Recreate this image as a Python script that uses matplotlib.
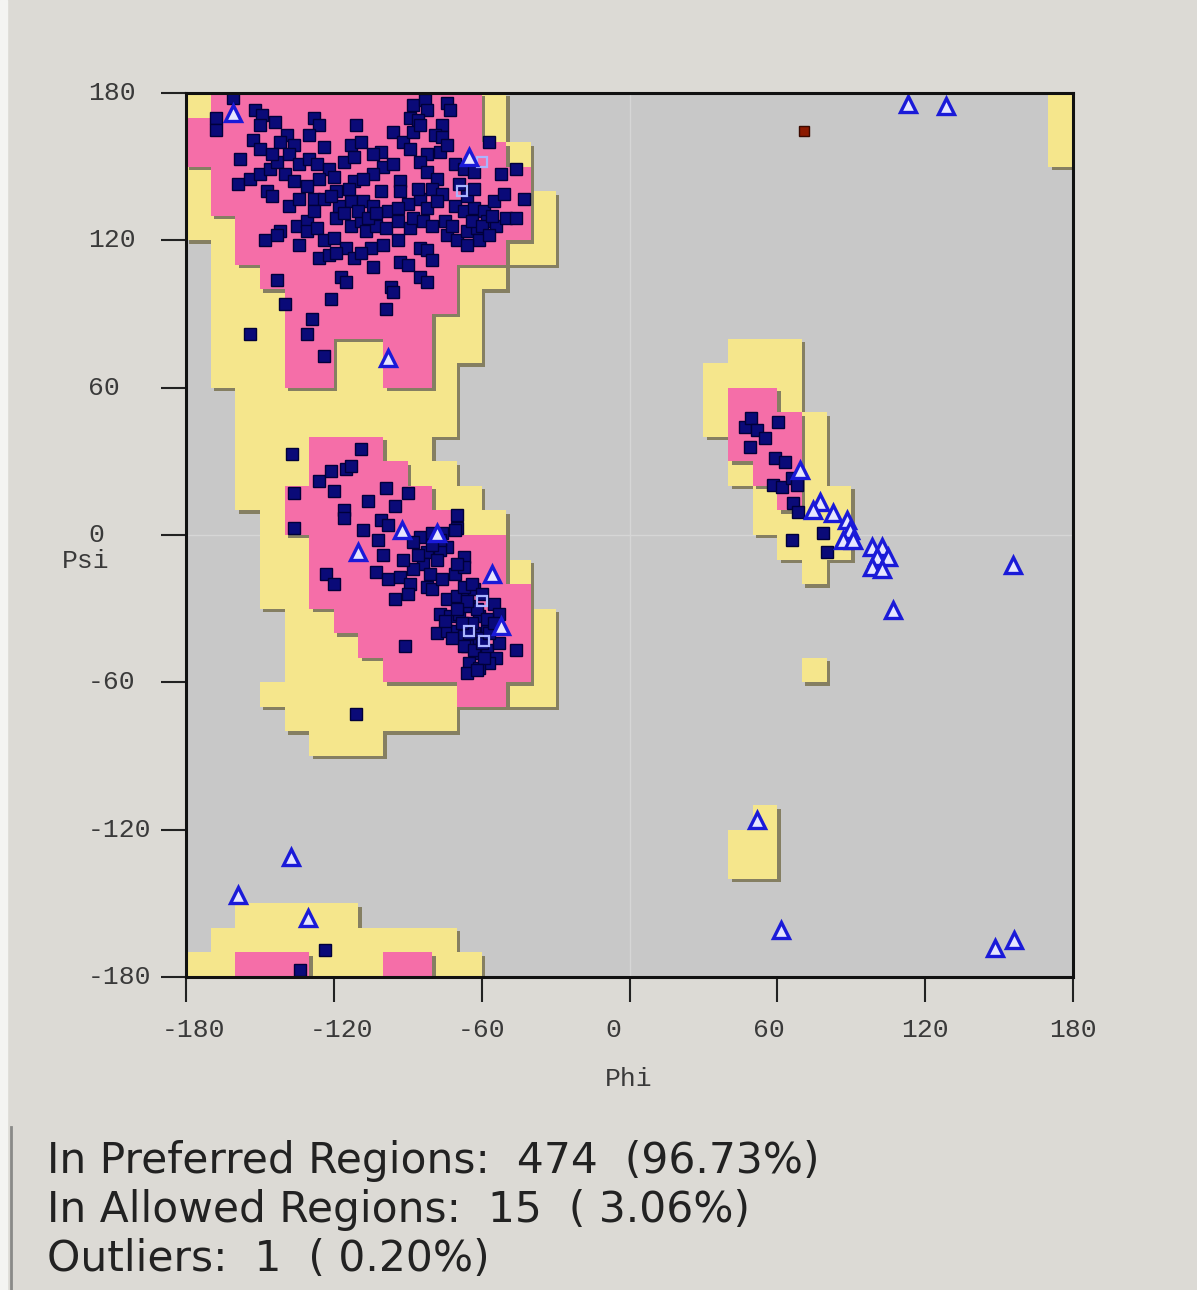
import numpy as np
import matplotlib
matplotlib.use('Agg')
import matplotlib.pyplot as plt
from matplotlib.colors import ListedColormap
from matplotlib import transforms
from matplotlib.patches import Rectangle
from matplotlib.lines import Line2D

plt.rcParams['axes.unicode_minus'] = False

# region map blocks: (phi_lo, phi_hi, psi_lo, psi_hi), 10 degree grid
allowed_blocks = [
    (-180, -50, 160, 180), (-180, -40, 140, 160), (-180, -30, 120, 140),
    (-170, -30, 110, 120), (-170, -50, 100, 110), (-170, -60, 70, 100),
    (-170, -70, 60, 70), (-160, -70, 40, 60), (-160, -80, 30, 40),
    (-160, -70, 20, 30), (-160, -60, 10, 20), (-150, -50, -10, 10),
    (-150, -40, -30, -10), (-140, -30, -60, -30), (-150, -30, -70, -60),
    (-140, -70, -80, -70), (-130, -100, -90, -80),
    (-160, -110, -160, -150), (-170, -70, -170, -160), (-180, -60, -180, -170),
    (30, 40, 40, 70), (40, 50, 20, 80), (50, 60, 0, 80), (60, 70, -10, 80),
    (70, 80, -20, 50), (80, 90, -10, 20), (70, 80, -60, -50),
    (50, 60, -140, -110), (40, 50, -140, -120), (170, 180, 150, 180),
]

preferred_blocks = [
    (-180, -170, 150, 170), (-170, -160, 130, 180), (-160, -150, 110, 180),
    (-150, -140, 100, 180), (-140, -120, 60, 180), (-120, -100, 80, 180),
    (-100, -80, 60, 180), (-80, -70, 90, 180), (-70, -60, 110, 180),
    (-60, -50, 110, 160), (-50, -40, 120, 150),
    (-130, -100, 30, 40), (-130, -90, 20, 30), (-140, -80, 10, 20),
    (-140, -70, 0, 10), (-130, -50, -20, 0), (-130, -40, -30, -20),
    (-120, -40, -40, -30), (-110, -40, -50, -40), (-100, -40, -60, -50),
    (-70, -50, -70, -60),
    (-160, -130, -180, -170), (-100, -80, -180, -170),
    (40, 50, 30, 60), (50, 60, 20, 60), (60, 70, 10, 50),
]

# residues (phi, psi)
general = [
    (-161, 178), (-152, 173), (-149, 171), (-168, 170), (-128, 170), (-126, 167), (-111, 167),
    (-88, 175), (-83, 177), (-82, 173), (-74, 176), (-73, 173), (-89, 170), (-86, 169),
    (-76, 167), (-57, 160), (-168, 165), (-150, 167), (-144, 168), (-153, 161), (-139, 163),
    (-142, 160), (-136, 159), (-130, 163), (-124, 158), (-113, 159), (-109, 160), (-101, 156),
    (-96, 164), (-92, 160), (-88, 164), (-85, 167), (-79, 163), (-76, 162), (-89, 157),
    (-82, 155), (-77, 156), (-74, 159),
    (-159, 143), (-154, 145), (-150, 147), (-146, 149), (-143, 152), (-138, 155), (-134, 151),
    (-130, 153), (-127, 151), (-122, 149), (-116, 152), (-112, 154), (-104, 155), (-100, 150),
    (-96, 151), (-112, 144), (-104, 147), (-93, 144), (-85, 152), (-82, 148), (-78, 145),
    (-71, 151), (-67, 149), (-63, 148), (-46, 149), (-52, 147),
    (-147, 140), (-145, 138), (-138, 134), (-134, 137), (-128, 137), (-124, 137), (-119, 140),
    (-113, 136), (-108, 136), (-104, 134), (-101, 140), (-98, 132), (-93, 140), (-85, 137),
    (-82, 133), (-80, 141), (-76, 139), (-71, 134), (-67, 132), (-63, 133), (-59, 132),
    (-55, 136), (-51, 139), (-43, 137),
    (-142, 124), (-135, 126), (-131, 128), (-148, 120), (-143, 122), (-134, 118), (-131, 124),
    (-127, 125), (-124, 120), (-120, 121), (-119, 129), (-113, 126), (-109, 128), (-107, 124),
    (-103, 126), (-99, 125), (-94, 128), (-89, 125), (-88, 129), (-84, 128), (-80, 126),
    (-74, 122), (-70, 120), (-66, 124), (-62, 125), (-58, 128), (-54, 126), (-50, 129),
    (-46, 129), (-61, 120), (-66, 118),
    (-115, 117), (-126, 113), (-122, 114), (-112, 113), (-105, 117), (-100, 118), (-94, 120),
    (-119, 115), (-109, 115), (-104, 109), (-93, 111), (-90, 110), (-85, 117), (-82, 116),
    (-80, 112), (-143, 104), (-117, 105), (-115, 103), (-85, 105), (-82, 103), (-97, 101),
    (-96, 99), (-99, 92), (-121, 96), (-140, 94), (-129, 88), (-131, 82), (-154, 82), (-124, 73),
    (-118, 134), (-116, 131), (-121, 138), (-114, 141), (-110, 132), (-106, 129), (-103, 131),
    (-75, 128), (-72, 126), (-64, 128), (-60, 126), (-57, 122), (-56, 130), (-66, 138),
    (-63, 141), (-69, 143), (-126, 145), (-120, 146), (-131, 142), (-108, 145), (-90, 135),
    (-86, 141), (-94, 133), (-78, 136), (-128, 132), (-140, 147), (-136, 144), (-150, 157),
    (-145, 155), (-158, 153),
    (-137, 33), (-109, 35), (-136, 17), (-136, 3), (-126, 22), (-121, 26), (-115, 27),
    (-113, 28), (-120, 18), (-116, 10), (-116, 7), (-106, 14), (-99, 19), (-95, 12),
    (-90, 17), (-108, 2), (-101, 6), (-98, 4), (-102, -2), (-100, -8), (-103, -15),
    (-98, -18), (-93, -17), (-89, -20), (-95, -26), (-90, -24), (-123, -16), (-120, -20),
    (-85, -1), (-88, -3), (-82, -7), (-80, 1), (-76, 1), (-74, -5), (-70, 8), (-70, 3),
    (-77, -6), (-84, -12), (-81, -16), (-82, -21), (-80, -22), (-76, -18), (-71, -16),
    (-67, -9), (-67, -13), (-70, -12), (-74, -26), (-70, -25), (-66, -24), (-63, -22),
    (-77, -32), (-73, -33), (-69, -32), (-65, -29), (-61, -33), (-78, -40), (-74, -39),
    (-70, -39), (-67, -41), (-63, -40), (-58, -39), (-66, -45), (-62, -48), (-58, -47),
    (-54, -50), (-57, -52), (-65, -52), (-66, -56), (-61, -54), (-46, -47), (-53, -44),
    (-55, -28), (-53, -32), (-67, -21), (-91, -45), (-111, -73), (-71, 2), (-77, -2),
    (-64, -36), (-61, -42), (-67, -45), (-62, -30), (-58, -34), (-66, -27), (-70, -30),
    (-63, -47), (-60, -44), (-57, -40), (-65, -40), (-68, -36), (-55, -36), (-59, -50),
    (-62, -55), (-72, -42), (-75, -35), (-64, -20), (-60, -24), (-86, -8), (-80, -4),
    (-88, -14), (-92, -10), (-78, -10),
    (47, 44), (49.5, 47.5), (51.6, 42.8), (55, 39.4), (48.9, 36), (60.3, 46.2), (59, 31.2),
    (63.1, 29.9), (58.3, 20.4), (61.7, 19.7), (65.8, 23.1), (67.8, 20.4), (66.4, 12.9),
    (68.5, 9.5), (65.8, -2), (78.6, 0.7), (80, -6.8),
    (-123.6, -169), (-133.7, -177),
]

glycine = [
    (-161, 172), (-98, 72), (113, 175.5), (128.4, 174.7), (-110, -7), (-92.4, 2), (-78, 1),
    (-56, -16), (-52, -37), (69, 26.5), (77.3, 13.6), (74.6, 10.2), (82.7, 8.9), (88.1, 6.1),
    (89.5, 2.1), (86.8, -2), (90.8, -2), (98.3, -4.7), (102.3, -4.7), (100.3, -8.8),
    (105, -8.8), (98.3, -12.9), (102.3, -14), (107, -30.5), (155.6, -12.2), (51.7, -116),
    (-158.9, -146.5), (-137.4, -131), (-130.5, -155.9), (61.5, -160.8), (148.3, -168.1),
    (156, -164.9), (-65, 154),
]

proline = [(-68, 140), (-60, 152), (-60, -27), (-59, -43), (-65, -39)]

outliers = [(70.8, 164.5)]

ticks = [-180, -120, -60, 0, 60, 120, 180]
summary_lines = [
    'In Preferred Regions:  474  (96.73%)',
    'In Allowed Regions:  15  ( 3.06%)',
    'Outliers:  1  ( 0.20%)',
]


def grid_from(blocks):
    g = np.zeros((36, 36), bool)
    centers = np.arange(-175, 180, 10)
    for p0, p1, s0, s1 in blocks:
        cols = (centers > p0) & (centers < p1)
        rows = (centers > s0) & (centers < s1)
        g[np.ix_(rows, cols)] = True
    return g


fig = plt.figure(figsize=(11.97, 12.9), dpi=100, facecolor='#dcdad5')
ax = fig.add_axes([0.1554, 0.2426, 0.741, 0.6853])
ax.set_facecolor('#c8c8c8')

# zero lines
ax.axhline(0, color='#d6d6d6', lw=1, zorder=0.5)
ax.axvline(0, color='#d6d6d6', lw=1, zorder=0.5)

# regions with drop shadow
edges = np.arange(-180, 181, 10)
off = 1.4
layers = [(grid_from(allowed_blocks), '#f5e68c', 2), (grid_from(preferred_blocks), '#f56ea8', 4)]
for g, col, z in layers:
    m = np.ma.masked_where(~g, np.ones(g.shape))
    ax.pcolormesh(edges + off, edges - off, m, cmap=ListedColormap(['#857f62']),
                  zorder=z - 1, antialiased=False)
    ax.pcolormesh(edges, edges, m, cmap=ListedColormap([col]), zorder=z, antialiased=False)

# residues
gx, gy = zip(*general)
ax.plot(gx, gy, 's', ms=8.5, mfc='#0a0a78', mec='#00003a', mew=1, zorder=6)
px, py = zip(*proline)
ax.plot(px, py, 's', ms=6.5, mfc='none', mec='#aab4ff', mew=1.6, zorder=7)
tx, ty = zip(*glycine)
ax.plot(tx, ty, '^', ms=11, mfc='#e6e6ff', mec='#1a1ad8', mew=2.4, zorder=8)
ox, oy = zip(*outliers)
ax.plot(ox, oy, 's', ms=7, mfc='#8c1a00', mec='#3a0a00', mew=1, zorder=8)

ax.set_xlim(-180, 180)
ax.set_ylim(-180, 180)
ax.set_xticks(ticks)
ax.set_yticks(ticks)
ax.set_xticklabels([])
ax.set_yticklabels([])
ax.tick_params(length=18, width=1.5, direction='out', color='#222222')
for s in ax.spines.values():
    s.set_linewidth(2.2)
    s.set_color('#111111')
    s.set_zorder(9)

mono = 'Liberation Mono'
tcol = '#3a3a3a'
xt = transforms.blended_transform_factory(ax.transData, ax.transAxes)
shift = transforms.ScaledTranslation(-0.24, 0, fig.dpi_scale_trans)
for t in ticks:
    ax.text(t, -0.06, str(t), transform=xt + shift, ha='left', va='center',
            family=mono, fontsize=19, color=tcol)
yt = transforms.blended_transform_factory(ax.transAxes, ax.transData)
for t in ticks:
    ax.text(-0.1105, t, str(t), transform=yt, ha='left', va='center',
            family=mono, fontsize=19, color=tcol)
ax.text(-0.1398, 0.4706, 'Psi', transform=ax.transAxes, ha='left', va='center',
        family=mono, fontsize=19, color=tcol)
ax.text(0.4724, -0.1154, 'Phi', transform=ax.transAxes, ha='left', va='center',
        family=mono, fontsize=19, color=tcol)

# summary panel
for i, line in enumerate(summary_lines):
    fig.text(0.0393, 0.0907 - i * 0.038, line, ha='left', va='baseline',
             family='DejaVu Sans', fontsize=30.5, color='#222222')
fig.patches.append(Rectangle((0, 0), 7 / 1197, 1, transform=fig.transFigure,
                             color='#f4f4f2', zorder=0))
fig.lines.append(Line2D([11 / 1197, 11 / 1197], [0, 0.1264], transform=fig.transFigure,
                        color='#8a8a88', lw=2))

fig.savefig('out.png', dpi=100, facecolor=fig.get_facecolor())
